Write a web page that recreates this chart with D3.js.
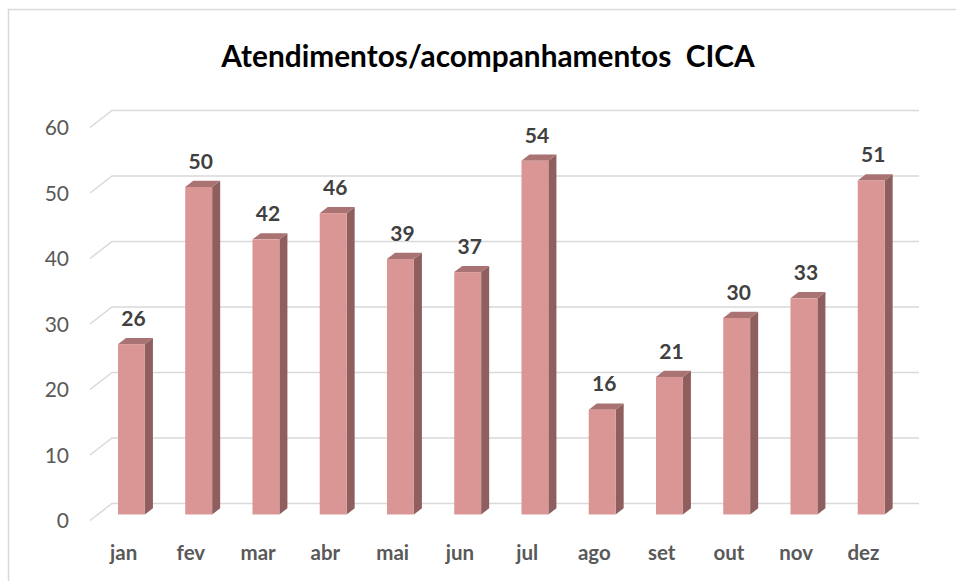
<!DOCTYPE html>
<html><head><meta charset="utf-8">
<script src="https://cdn.jsdelivr.net/npm/d3@7"></script>
<style>body{margin:0;background:#fff}svg{display:block}</style>
</head><body>
<svg id="c" width="956" height="581"></svg>
<script>
const categories = ["jan","fev","mar","abr","mai","jun","jul","ago","set","out","nov","dez"];
const values = [26,50,42,46,39,37,54,16,21,30,33,51];
const yTicks = [0,10,20,30,40,50,60];
const title = "Atendimentos/acompanhamentos  CICA";

const svg = d3.select("#c");
const FONT = "Lato, 'Open Sans', 'Liberation Sans', sans-serif";

// chart border
svg.append("rect").attr("x",8.5).attr("y",9.5).attr("width",1000).attr("height",1000)
  .attr("fill","none").attr("stroke","#D9D9D9").attr("stroke-width",1.5);

svg.append("text").attr("x",488).attr("y",67).attr("text-anchor","middle")
  .attr("font-family",FONT).attr("font-weight",700).attr("font-size",29.8).attr("fill","#000")
  .style("white-space","pre").text(title);

const x = d3.scaleBand().domain(categories).range([90, 897]);
const y = d3.scaleLinear().domain([0,60]).range([520.5,127.5]);
const DX = 22, DY = -17; // full depth
const fFront = 0.355, fBack = 0.72;

// gridlines
const g = svg.append("g");
yTicks.forEach(t=>{
  const yy = y(t);
  g.append("path").attr("d",`M90,${yy}L${90+DX},${yy+DY}L919,${yy+DY}`)
    .attr("fill","none").attr("stroke","#D9D9D9").attr("stroke-width",1.5);
});

// y axis labels
const yAxis = d3.axisLeft(y).tickValues(yTicks).tickSize(0).tickPadding(0);
const ya = svg.append("g").attr("transform","translate(69,0)").call(yAxis);
ya.select(".domain").remove();
ya.selectAll("text").attr("font-family",FONT).attr("font-size",21).attr("fill","#595959").attr("dy","0.35em");

// bars
const bw = x.bandwidth()*0.4;
const bars = svg.append("g");
categories.forEach((c,i)=>{
  const v = values[i];
  const x0 = x(c) + (x.bandwidth()-bw)/2 + DX*fFront;
  const x1 = x0 + bw;
  const yb = y(0) + DY*fFront, yt = y(v) + DY*fFront;
  const ddx = DX*(fBack-fFront), ddy = DY*(fBack-fFront);
  bars.append("path").attr("d",`M${x1},${yt}L${x1+ddx},${yt+ddy}L${x1+ddx},${yb+ddy}L${x1},${yb}Z`).attr("fill","#8E5F5E");
  bars.append("path").attr("d",`M${x0},${yt}L${x0+ddx},${yt+ddy}L${x1+ddx},${yt+ddy}L${x1},${yt}Z`).attr("fill","#A87372");
  bars.append("rect").attr("x",x0).attr("y",yt).attr("width",bw).attr("height",yb-yt).attr("fill","#D99694");
  bars.append("text").attr("x",(x0+x1)/2+2).attr("y",yt+ddy-12).attr("text-anchor","middle")
    .attr("font-family",FONT).attr("font-weight",700).attr("font-size",21).attr("fill","#404040").text(v);
});

// x axis labels
const xAxis = d3.axisBottom(x).tickSize(0).tickPadding(0);
const xa = svg.append("g").attr("transform","translate(0,545)").call(xAxis);
xa.select(".domain").remove();
xa.selectAll("text").attr("font-family",FONT).attr("font-weight",700).attr("font-size",20.5).attr("fill","#595959").attr("dy","0.71em").attr("y",0);
</script>
</body></html>
